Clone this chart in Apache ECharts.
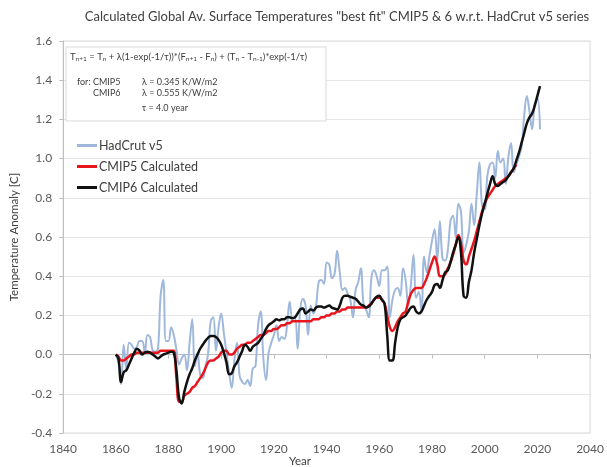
<!DOCTYPE html>
<html>
<head>
<meta charset="utf-8">
<script src="https://cdn.jsdelivr.net/npm/echarts@6/dist/echarts.min.js"></script>
<style>
html,body{margin:0;padding:0;background:#fff;}
#chart{width:607px;height:467px;}
</style>
</head>
<body>
<div id="chart"></div>
<script>
const years = [
1860,1861,1862,1863,1864,1865,1866,1867,1868,1869,
1870,1871,1872,1873,1874,1875,1876,1877,1878,1879,
1880,1881,1882,1883,1884,1885,1886,1887,1888,1889,
1890,1891,1892,1893,1894,1895,1896,1897,1898,1899,
1900,1901,1902,1903,1904,1905,1906,1907,1908,1909,
1910,1911,1912,1913,1914,1915,1916,1917,1918,1919,
1920,1921,1922,1923,1924,1925,1926,1927,1928,1929,
1930,1931,1932,1933,1934,1935,1936,1937,1938,1939,
1940,1941,1942,1943,1944,1945,1946,1947,1948,1949,
1950,1951,1952,1953,1954,1955,1956,1957,1958,1959,
1960,1961,1962,1963,1964,1965,1966,1967,1968,1969,
1970,1971,1972,1973,1974,1975,1976,1977,1978,1979,
1980,1981,1982,1983,1984,1985,1986,1987,1988,1989,
1990,1991,1992,1993,1994,1995,1996,1997,1998,1999,
2000,2001,2002,2003,2004,2005,2006,2007,2008,2009,
2010,2011,2012,2013,2014,2015,2016,2017,2018,2019,
2020,2021];

const hadcrut = [
0.00,-0.04,-0.15,0.05,-0.08,0.06,0.05,0.03,0.04,0.07,
0.07,0.01,0.10,0.09,0.02,0.015,0.03,0.30,0.38,0.07,
0.07,0.14,0.10,0.025,-0.05,-0.02,0.00,-0.08,0.06,0.18,
-0.06,0.01,-0.10,-0.12,-0.06,0.00,0.17,0.19,0.02,0.14,
0.21,0.11,0.01,-0.09,-0.17,-0.03,0.06,-0.11,-0.14,-0.15,
-0.13,-0.16,-0.07,-0.06,0.15,0.22,-0.02,-0.13,0.01,0.06,
0.10,0.15,0.07,0.09,0.08,0.15,0.27,0.19,0.19,0.03,
0.23,0.285,0.25,0.10,0.25,0.21,0.25,0.37,0.38,0.36,
0.47,0.46,0.39,0.41,0.53,0.42,0.33,0.34,0.31,0.28,
0.19,0.33,0.37,0.44,0.26,0.23,0.19,0.39,0.43,0.40,
0.35,0.43,0.43,0.45,0.19,0.28,0.33,0.34,0.30,0.44,
0.38,0.25,0.36,0.51,0.29,0.32,0.22,0.50,0.42,0.50,
0.58,0.64,0.48,0.68,0.49,0.48,0.53,0.68,0.71,0.60,
0.77,0.73,0.52,0.56,0.63,0.77,0.66,0.82,0.98,0.76,
0.74,0.91,0.97,0.98,0.90,1.04,0.98,1.00,0.87,1.01,
1.08,0.93,0.97,1.01,1.06,1.22,1.32,1.24,1.15,1.28,
1.31,1.15];

const cmip5 = [
0.00,-0.01,-0.03,-0.03,-0.02,-0.01,0.00,0.00,0.01,0.01,
0.01,0.01,0.01,0.01,0.01,0.01,0.01,0.02,0.02,0.02,
0.02,0.02,0.02,-0.12,-0.24,-0.24,-0.21,-0.20,-0.19,-0.17,
-0.16,-0.14,-0.12,-0.10,-0.07,-0.04,-0.03,-0.03,-0.02,-0.01,
0.01,0.02,0.02,0.00,0.00,0.01,0.03,0.04,0.05,0.05,
0.06,0.06,0.07,0.08,0.09,0.10,0.10,0.11,0.12,0.12,
0.13,0.13,0.14,0.15,0.15,0.16,0.16,0.17,0.17,0.17,
0.17,0.17,0.17,0.17,0.17,0.18,0.18,0.18,0.19,0.19,
0.20,0.20,0.21,0.21,0.22,0.22,0.23,0.23,0.24,0.24,
0.24,0.24,0.24,0.24,0.24,0.24,0.25,0.26,0.28,0.29,
0.29,0.28,0.26,0.20,0.14,0.12,0.14,0.17,0.19,0.21,
0.22,0.27,0.31,0.33,0.34,0.34,0.34,0.36,0.39,0.43,
0.47,0.50,0.46,0.40,0.40,0.41,0.44,0.47,0.51,0.56,
0.61,0.57,0.48,0.46,0.50,0.54,0.58,0.63,0.68,0.73,
0.77,0.80,0.82,0.84,0.86,0.87,0.88,0.89,0.90,0.91,
0.93,0.95,0.97];

const cmip6 = [
0.00,-0.02,-0.14,-0.09,-0.08,-0.05,-0.02,0.01,0.03,0.02,
0.00,0.01,0.015,0.01,0.00,-0.01,-0.02,-0.01,0.00,0.005,
0.01,0.015,0.01,-0.08,-0.22,-0.25,-0.19,-0.14,-0.10,-0.07,
-0.03,0.00,0.03,0.05,0.07,0.085,0.095,0.095,0.09,0.075,
0.05,0.01,-0.04,-0.10,-0.095,-0.06,-0.04,-0.01,0.02,0.05,
0.04,0.02,0.04,0.05,0.06,0.08,0.10,0.13,0.15,0.16,
0.17,0.18,0.175,0.18,0.18,0.19,0.19,0.185,0.19,0.21,
0.23,0.235,0.21,0.22,0.23,0.225,0.24,0.245,0.245,0.24,
0.245,0.25,0.24,0.235,0.23,0.25,0.29,0.30,0.30,0.295,
0.29,0.285,0.27,0.255,0.25,0.24,0.245,0.26,0.28,0.295,
0.30,0.28,0.26,0.10,-0.03,-0.03,0.06,0.14,0.18,0.19,
0.20,0.22,0.24,0.245,0.22,0.21,0.22,0.25,0.28,0.30,
0.32,0.355,0.36,0.34,0.38,0.42,0.43,0.47,0.52,0.56,
0.60,0.52,0.30,0.29,0.37,0.43,0.52,0.59,0.66,0.72,
0.77,0.82,0.87,0.91,0.87,0.86,0.87,0.88,0.89,0.91,
0.93,0.95,0.99,1.03,1.08,1.13,1.18,1.21,1.23,1.27,
1.32,1.37];

const seriesNames = ['HadCrut v5', 'CMIP5 Calculated', 'CMIP6 Calculated'];
const titleText = 'Calculated Global Av. Surface Temperatures "best fit" CMIP5 & 6 w.r.t. HadCrut v5 series';
const yAxisTitle = 'Temperature Anomaly [C]';
const xAxisTitle = 'Year';
const paramLines = [
  ['for: CMIP5', 'λ = 0.345 K/W/m2'],
  ['CMIP6', 'λ = 0.555 K/W/m2'],
  ['', 'τ = 4.0 year']
];

function pairs(vals) { return vals.map((v, i) => [years[i], v]); }

const FONT = 'Lato, "Liberation Sans", sans-serif';
const chart = echarts.init(document.getElementById('chart'));

chart.setOption({
  animation: false,
  backgroundColor: '#ffffff',
  textStyle: { fontFamily: FONT },
  grid: { left: 58, right: 13, top: 41, bottom: 34, show: true, borderColor: '#d9d9d9', borderWidth: 1 },
  xAxis: {
    type: 'value', min: 1840, max: 2040, interval: 20,
    axisLine: { show: true, lineStyle: { color: '#bfbfbf', width: 1 } },
    axisTick: { show: true, inside: false, length: 4, lineStyle: { color: '#bfbfbf' } },
    axisLabel: { color: '#595959', fontSize: 12, margin: 10, fontFamily: FONT,
      formatter: v => String(Math.round(v)) },
    splitLine: { show: false }
  },
  yAxis: {
    type: 'value', min: -0.4, max: 1.6, interval: 0.2,
    name: yAxisTitle, nameLocation: 'middle', nameGap: 40, nameRotate: 90,
    nameTextStyle: { color: '#404040', fontSize: 11.5, fontFamily: FONT },
    axisLine: { show: true, lineStyle: { color: '#bfbfbf', width: 1 } },
    axisTick: { show: true, inside: false, length: 4, lineStyle: { color: '#bfbfbf' } },
    axisLabel: { color: '#595959', fontSize: 12, margin: 11, fontFamily: FONT,
      formatter: v => (Math.abs(v) < 1e-9 ? 0 : v).toFixed(1) },
    splitLine: { show: true, lineStyle: { color: '#e6e6e6', width: 1 } }
  },
  legend: {
    orient: 'vertical', left: 72, top: 134, itemGap: 8, itemWidth: 20, itemHeight: 3,
    icon: 'rect',
    textStyle: { color: '#404040', fontSize: 12.5, fontFamily: FONT, padding: [0, 0, 0, -3] },
    data: seriesNames
  },
  series: [
    { name: seriesNames[0], type: 'line', data: pairs(hadcrut), showSymbol: false, smooth: 0.4,
      lineStyle: { color: '#9fb8dc', width: 2 }, itemStyle: { color: '#9fb8dc' } },
    { name: seriesNames[1], type: 'line', data: pairs(cmip5), showSymbol: false, smooth: 0.4,
      lineStyle: { color: '#e8161c', width: 2.5 }, itemStyle: { color: '#e8161c' } },
    { name: seriesNames[2], type: 'line', data: pairs(cmip6), showSymbol: false, smooth: 0.4,
      lineStyle: { color: '#111111', width: 2.5 }, itemStyle: { color: '#111111' } }
  ],
  graphic: [
    { type: 'text', x: 337, y: 10,
      style: { text: titleText, fill: '#404040', font: '13px ' + FONT, textAlign: 'center' } },
    { type: 'text', x: 300, y: 455,
      style: { text: xAxisTitle, fill: '#404040', font: '11.5px ' + FONT, textAlign: 'center' } },
    { type: 'rect', shape: { x: 66, y: 47, width: 260, height: 74 },
      style: { fill: '#ffffff', stroke: '#d9d9d9', lineWidth: 1 }, z: 100 },
    { type: 'text', x: 70, y: 51, z: 101,
      style: {
        text: 'T{s|n+1} = T{s|n} + λ(1-exp(-1/τ))*(F{s|n+1} - F{s|n}) + (T{s|n} - T{s|n-1})*exp(-1/τ)',
        fill: '#404040', font: '9.5px ' + FONT,
        rich: { s: { fontSize: 6.5, fontFamily: FONT, fill: '#404040', padding: [4, 0, 0, 0] } }
      } },
    { type: 'text', x: 77, y: 78, z: 101, style: { text: paramLines[0][0], fill: '#404040', font: '9px ' + FONT } },
    { type: 'text', x: 142, y: 78, z: 101, style: { text: paramLines[0][1], fill: '#404040', font: '9px ' + FONT } },
    { type: 'text', x: 93, y: 89, z: 101, style: { text: paramLines[1][0], fill: '#404040', font: '9px ' + FONT } },
    { type: 'text', x: 142, y: 89, z: 101, style: { text: paramLines[1][1], fill: '#404040', font: '9px ' + FONT } },
    { type: 'text', x: 142, y: 104, z: 101, style: { text: paramLines[2][1], fill: '#404040', font: '9px ' + FONT } }
  ]
});
</script>
</body>
</html>
